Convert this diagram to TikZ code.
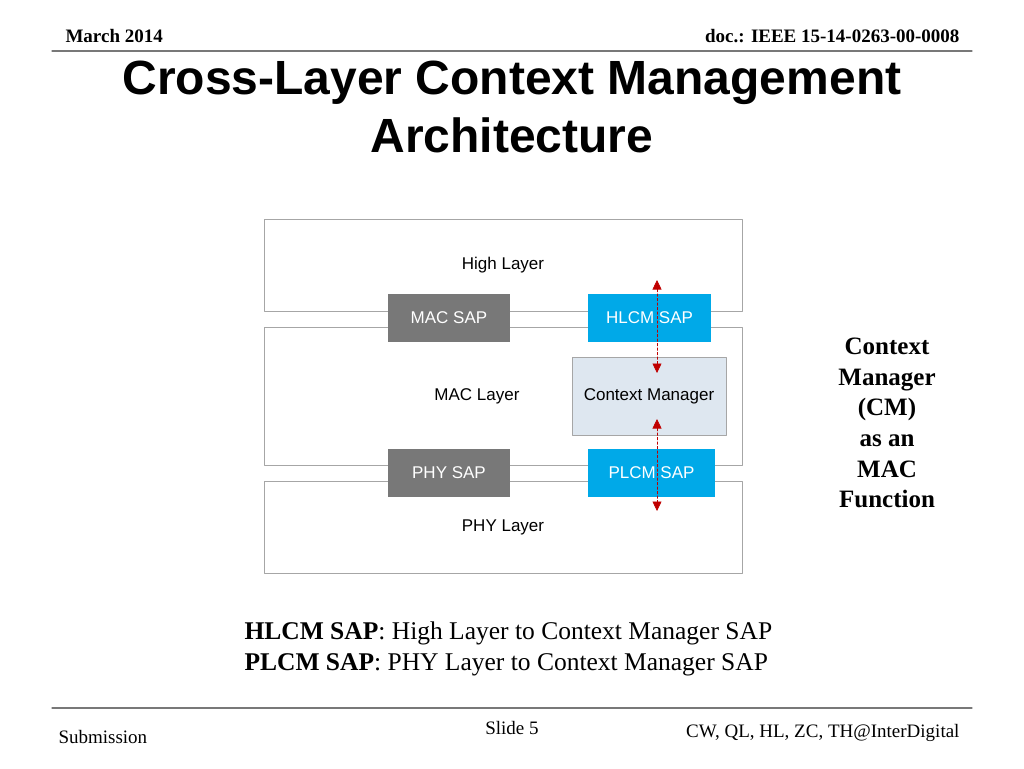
\documentclass[tikz,border=0pt]{standalone}
\usepackage{fontspec}
\setmainfont{Liberation Serif}
\newfontfamily\arialfont{Liberation Sans}
\usetikzlibrary{arrows.meta}

\definecolor{sapblue}{HTML}{00A9E8}
\definecolor{sapgray}{HTML}{787878}
\definecolor{cmfill}{HTML}{DEE7F0}
\definecolor{boxline}{HTML}{A6A6A6}
\definecolor{ctxred}{HTML}{C00000}

\begin{document}
\begin{tikzpicture}[x=1pt,y=-1pt,line cap=round,line join=round,
    layerbox/.style={draw=boxline,line width=0.9pt,fill=white,minimum width=478pt,
      font=\arialfont\fontsize{17}{20}\selectfont},
    sapbox/.style={fill=#1,text=white,minimum height=48pt,inner sep=0pt,
      font=\arialfont\fontsize{17}{20}\selectfont},
    ctxarrow/.style={ctxred,line width=0.6pt,dash pattern=on 2.5pt off 2pt,
      {Triangle[width=9pt,length=9.5pt]}-{Triangle[width=9pt,length=9.5pt]}},
    slidetext/.style={font=\fontsize{25.5}{30}\selectfont}]
  \useasboundingbox (0,0) rectangle (1024,768);

  % header and footer
  \node[anchor=base west,font=\bfseries\fontsize{19}{22}\selectfont] (date) at (62,43) {March 2014};
  \node[anchor=base east,font=\bfseries\fontsize{19}{22}\selectfont] (docno) at (963,43) {doc.: IEEE 15-14-0263-00-0008};
  \draw[sapgray,line width=1.2pt] (52,51) -- (972,51);
  \draw[sapgray,line width=1.2pt] (52,708) -- (972,708);
  \node[anchor=base west,font=\fontsize{19}{22}\selectfont] (submission) at (55,743) {Submission};
  \node[anchor=base,font=\fontsize{19}{22}\selectfont] (slideno) at (512,734) {Slide 5};
  \node[anchor=base east,font=\fontsize{19}{22}\selectfont] (authors) at (963,737) {CW, QL, HL, ZC, TH@InterDigital};

  % title
  \node[align=center,font=\arialfont\bfseries\fontsize{48}{58}\selectfont] (title) at (512,107)
    {Cross-Layer Context Management\\Architecture};

  % layers
  \node[layerbox,minimum height=92pt] (high) at (503,265) {High Layer};
  \node[layerbox,minimum height=138pt] (mac) at (503,396) {};
  \node[layerbox,minimum height=92pt] (phy) at (503,527) {PHY Layer};
  \node[font=\arialfont\fontsize{17}{20}\selectfont] (maclabel) at (477,396) {MAC Layer};

  % service access points
  \node[sapbox=sapgray,minimum width=122pt] (macsap) at (449,318) {MAC SAP};
  \node[sapbox=sapblue,minimum width=123pt] (hlcmsap) at (649.5,318) {HLCM SAP};
  \node[sapbox=sapgray,minimum width=122pt] (physap) at (449,473) {PHY SAP};
  \node[sapbox=sapblue,minimum width=127pt] (plcmsap) at (651.5,473) {PLCM SAP};
  \node[draw=boxline,fill=cmfill,line width=0.9pt,minimum width=154pt,minimum height=78pt,
    font=\arialfont\fontsize{17}{20}\selectfont] (cm) at (649,396) {Context Manager};

  % context paths
  \coordinate (hlcmend) at (657,280);
  \coordinate (cmtop) at (657,373);
  \coordinate (cmbot) at (657,419);
  \coordinate (plcmend) at (657,511);
  \draw[ctxarrow] (hlcmend) -- (cmtop);
  \draw[ctxarrow] (cmbot) -- (plcmend);

  % side note and legend
  \node[align=center,font=\bfseries\fontsize{25}{30.6}\selectfont] (note) at (887,423)
    {Context\\Manager\\(CM)\\as an\\MAC\\Function};
  \node[anchor=base west,slidetext] (hlcmdef) at (241,639) {\textbf{HLCM SAP}: High Layer to Context Manager SAP};
  \node[anchor=base west,slidetext] (plcmdef) at (241,670) {\textbf{PLCM SAP}: PHY Layer to Context Manager SAP};
\end{tikzpicture}
\end{document}
